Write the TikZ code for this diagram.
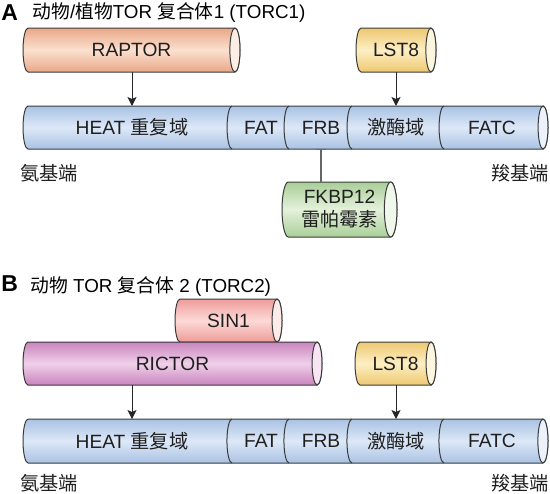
\documentclass[tikz,border=0pt]{standalone}
\usepackage{fontspec}
\setmainfont{Liberation Sans}
\newfontfamily\cjk{Noto Sans CJK SC}
\newcommand\zh[1]{{\cjk #1}}
\usetikzlibrary{arrows.meta,calc,backgrounds}

\definecolor{linec}{HTML}{3A3A3A}
\definecolor{raptoredge}{HTML}{E9A888}
\definecolor{raptormid}{HTML}{FBE0CF}
\definecolor{lstedge}{HTML}{EEC870}
\definecolor{lstmid}{HTML}{FCEFC4}
\definecolor{toredge}{HTML}{A9C2E4}
\definecolor{tormid}{HTML}{DDE8F7}
\definecolor{fkbpedge}{HTML}{A9CF98}
\definecolor{fkbpmid}{HTML}{E4F1DB}
\definecolor{sinedge}{HTML}{EE9C9A}
\definecolor{sinmid}{HTML}{FCDAD7}
\definecolor{rictoredge}{HTML}{C884BD}
\definecolor{rictormid}{HTML}{F0D0E9}

\tikzset{
  lab/.style={font=\fontsize{9.6}{11.5}\selectfont, text=black!88, inner sep=0pt},
  title/.style={font=\fontsize{9.4}{11}\selectfont, anchor=west, inner sep=0pt},
  panel/.style={font=\fontsize{11.5}{12}\selectfont\bfseries, anchor=west, inner sep=0pt},
  tube/.style={rectangle, inner sep=0pt, outer sep=0pt, anchor=west, lab},
  tubeline/.style={draw=linec, line width=0.5pt},
  arr/.style={-{Stealth[length=4.5pt,width=4.5pt,inset=1pt]}, line width=0.5pt, draw=black!85},
  inhib/.style={-{Bar[width=5pt]}, line width=0.6pt, draw=black!60}
}

\begin{document}
\begin{tikzpicture}[x=0.5pt,y=-0.5pt]
\useasboundingbox (0,0) rectangle (550,493);

% ---- A: TORC1
\node[panel] (pA) at (1,13) {A};
\node[title] (tA) at (32,13) {\zh{动物}/\zh{植物}TOR \zh{复合体}1 (TORC1)};
\node[tube, minimum width=108.5pt, minimum height=22pt] (raptor) at (23,50) {RAPTOR};
\node[tube, minimum width=40pt, minimum height=22pt] (lstA) at (356,50) {LST8};
\node[tube, minimum width=262.5pt, minimum height=21.5pt] (torA) at (23,127.5) {};
\node[tube, minimum width=57.5pt, minimum height=27.5pt, align=center] (fkbp) at (282,209.5) {FKBP12\\\zh{雷帕霉素}};

% ---- B: TORC2
\node[panel] (pB) at (1,284) {B};
\node[title] (tB) at (30,287) {\zh{动物} TOR \zh{复合体} 2 (TORC2)};
\node[tube, minimum width=53.5pt, minimum height=21.5pt] (sin) at (175,320.5) {SIN1};
\node[tube, minimum width=149.5pt, minimum height=21.5pt] (rictor) at (23,363.5) {RICTOR};
\node[tube, minimum width=40.5pt, minimum height=21.5pt] (lstB) at (355,363.5) {LST8};
\node[tube, minimum width=262.5pt, minimum height=22pt] (torB) at (23,441) {};

% tube bodies and end faces
\begin{scope}[on background layer]
\foreach \t/\e/\m in {raptor/raptoredge/raptormid, lstA/lstedge/lstmid, torA/toredge/tormid,
                      fkbp/fkbpedge/fkbpmid, sin/sinedge/sinmid, rictor/rictoredge/rictormid,
                      lstB/lstedge/lstmid, torB/toredge/tormid} {
  \draw[tubeline, top color=\e, bottom color=\e, middle color=\m]
    let \p1=(\t.north west), \p2=(\t.south east),
        \n1={(\y1-(\y2))/2}, \n2={0.23*\n1} in
    ({\x1+\n2},\y1) arc [start angle=90, end angle=270, x radius=\n2, y radius=\n1]
    -- ({\x2-\n2},\y2) arc [start angle=-90, end angle=90, x radius=\n2, y radius=\n1]
    -- cycle;
  \draw[tubeline, fill=\m!55!white]
    let \p1=(\t.north west), \p2=(\t.south east),
        \n1={(\y1-(\y2))/2}, \n2={0.23*\n1} in
    ({\x2-\n2},{\y2+\n1}) ellipse [x radius=\n2, y radius=\n1];
}

% domain dividers
\foreach \b in {torA, torB}
  \foreach \dx in {232,289,352,444}
    \draw[tubeline] let \p1=(\b.north west), \p2=(\b.south east),
        \n1={(\y1-(\y2))/2}, \n2={0.23*\n1} in
      (\dx,0 |- \b.north) arc [start angle=90, end angle=270, x radius=\n2, y radius=\n1];
\end{scope}

% domain labels
\foreach \b/\y in {A/127.5, B/441} {
  \node[lab] (heat\b) at (132,\y) {HEAT \zh{重复域}};
  \node[lab] (fat\b)  at (261,\y) {FAT};
  \node[lab] (frb\b)  at (321,\y) {FRB};
  \node[lab] (kin\b)  at (396,\y) {\zh{激酶域}};
  \node[lab] (fatc\b) at (492,\y) {FATC};
}
\node[lab] (nA) at (49,173) {\zh{氨基端}};
\node[lab] (cA) at (520,173) {\zh{羧基端}};
\node[lab] (nB) at (49,483) {\zh{氨基端}};
\node[lab] (cB) at (520,483) {\zh{羧基端}};

% connectors
\draw[arr] (raptor.south -| heatA) -- (torA.north -| heatA);
\draw[arr] (lstA.south -| kinA) -- (torA.north -| kinA);
\draw[inhib] (fkbp.north -| frbA) -- (torA.south -| frbA);
\draw[arr] (rictor.south -| heatB) -- (torB.north -| heatB);
\draw[arr] (lstB.south -| kinB) -- (torB.north -| kinB);
\end{tikzpicture}
\end{document}
